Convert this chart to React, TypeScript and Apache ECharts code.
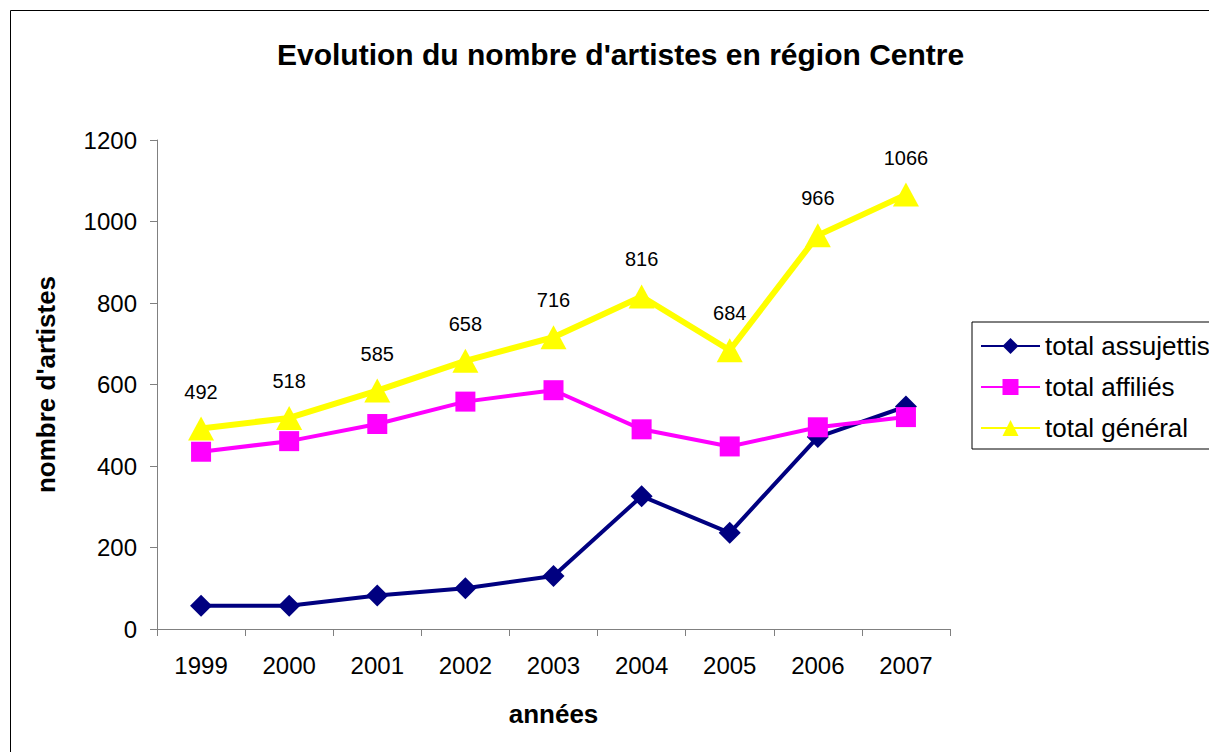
import React, { useEffect, useRef } from "react";
import * as echarts from "echarts";

const years = ["1999", "2000", "2001", "2002", "2003", "2004", "2005", "2006", "2007"];
const assujettis = [57, 57, 82, 100, 130, 326, 236, 471, 546];
const affilies = [435, 461, 503, 558, 586, 490, 448, 495, 520];
const general = [492, 518, 585, 658, 716, 816, 684, 966, 1066];
const seriesNames = ["total assujettis", "total affiliés", "total général"];
const titleText = "Evolution du nombre d'artistes en région Centre";
const yName = "nombre d'artistes";
const xName = "années";

const FONT = "'Liberation Sans', Arial, sans-serif";

export default function App() {
  const ref = useRef<HTMLDivElement>(null);
  useEffect(() => {
    if (!ref.current) return;
    const chart = echarts.init(ref.current, null, { renderer: "svg" });
    chart.setOption({
      animation: false,
      backgroundColor: "#ffffff",
      textStyle: { fontFamily: FONT, color: "#000" },
      title: {
        text: titleText,
        left: 272,
        top: 34,
        textStyle: { fontFamily: FONT, fontSize: 30, fontWeight: "bold", color: "#000" },
      },
      graphic: [
        {
          type: "rect",
          shape: { x: 10.5, y: 10.5, width: 1400, height: 900 },
          style: { fill: "none", stroke: "#000", lineWidth: 1 },
          silent: true,
          z: 100,
        },
      ],
      legend: {
        orient: "vertical",
        left: 972,
        top: 322,
        padding: [11, 8, 8, 8],
        itemGap: 15,
        itemWidth: 59,
        itemHeight: 20,
        borderColor: "#000",
        borderWidth: 1,
        backgroundColor: "#fff",
        data: seriesNames,
        textStyle: { fontFamily: FONT, fontSize: 26, color: "#000" },
      },
      grid: { left: 157, top: 140, right: 259, bottom: 123, containLabel: false },
      xAxis: {
        type: "category",
        data: years,
        boundaryGap: true,
        name: xName,
        nameLocation: "middle",
        nameGap: 72,
        nameTextStyle: { fontFamily: FONT, fontSize: 26, fontWeight: "bold", color: "#000" },
        axisLine: { lineStyle: { color: "#808080", width: 1 } },
        axisTick: { show: true, length: 7, inside: false, alignWithLabel: false, lineStyle: { color: "#808080" } },
        axisLabel: { margin: 24, fontFamily: FONT, fontSize: 24, color: "#000" },
        splitLine: { show: false },
      },
      yAxis: {
        type: "value",
        min: 0,
        max: 1200,
        interval: 200,
        name: yName,
        nameLocation: "middle",
        nameGap: 98,
        nameRotate: 90,
        nameTextStyle: { fontFamily: FONT, fontSize: 26, fontWeight: "bold", color: "#000" },
        axisLine: { show: true, lineStyle: { color: "#808080", width: 1 } },
        axisTick: { show: true, length: 7, inside: false, lineStyle: { color: "#808080" } },
        axisLabel: {
          margin: 20,
          fontFamily: FONT,
          fontSize: 24,
          color: "#000",
          formatter: (v: number) => String(v),
        },
        splitLine: { show: false },
      },
      series: [
        {
          name: seriesNames[0],
          type: "line",
          data: assujettis,
          symbol: "diamond",
          symbolSize: 22,
          color: "#000080",
          lineStyle: { color: "#000080", width: 4 },
          itemStyle: { color: "#000080" },
        },
        {
          name: seriesNames[1],
          type: "line",
          data: affilies,
          symbol: "rect",
          symbolSize: 20,
          color: "#FF00FF",
          lineStyle: { color: "#FF00FF", width: 4 },
          itemStyle: { color: "#FF00FF" },
        },
        {
          name: seriesNames[2],
          type: "line",
          data: general,
          symbol: "triangle",
          symbolSize: [26, 24],
          color: "#FFFF00",
          lineStyle: { color: "#FFFF00", width: 6 },
          itemStyle: { color: "#FFFF00" },
          label: {
            show: true,
            position: "top",
            distance: 15,
            fontFamily: FONT,
            fontSize: 20,
            color: "#000",
          },
        },
      ],
    });
    return () => chart.dispose();
  }, []);
  return (
    <div
      ref={ref}
      style={{ position: "absolute", left: 0, top: 0, width: 1209, height: 752 }}
    />
  );
}
